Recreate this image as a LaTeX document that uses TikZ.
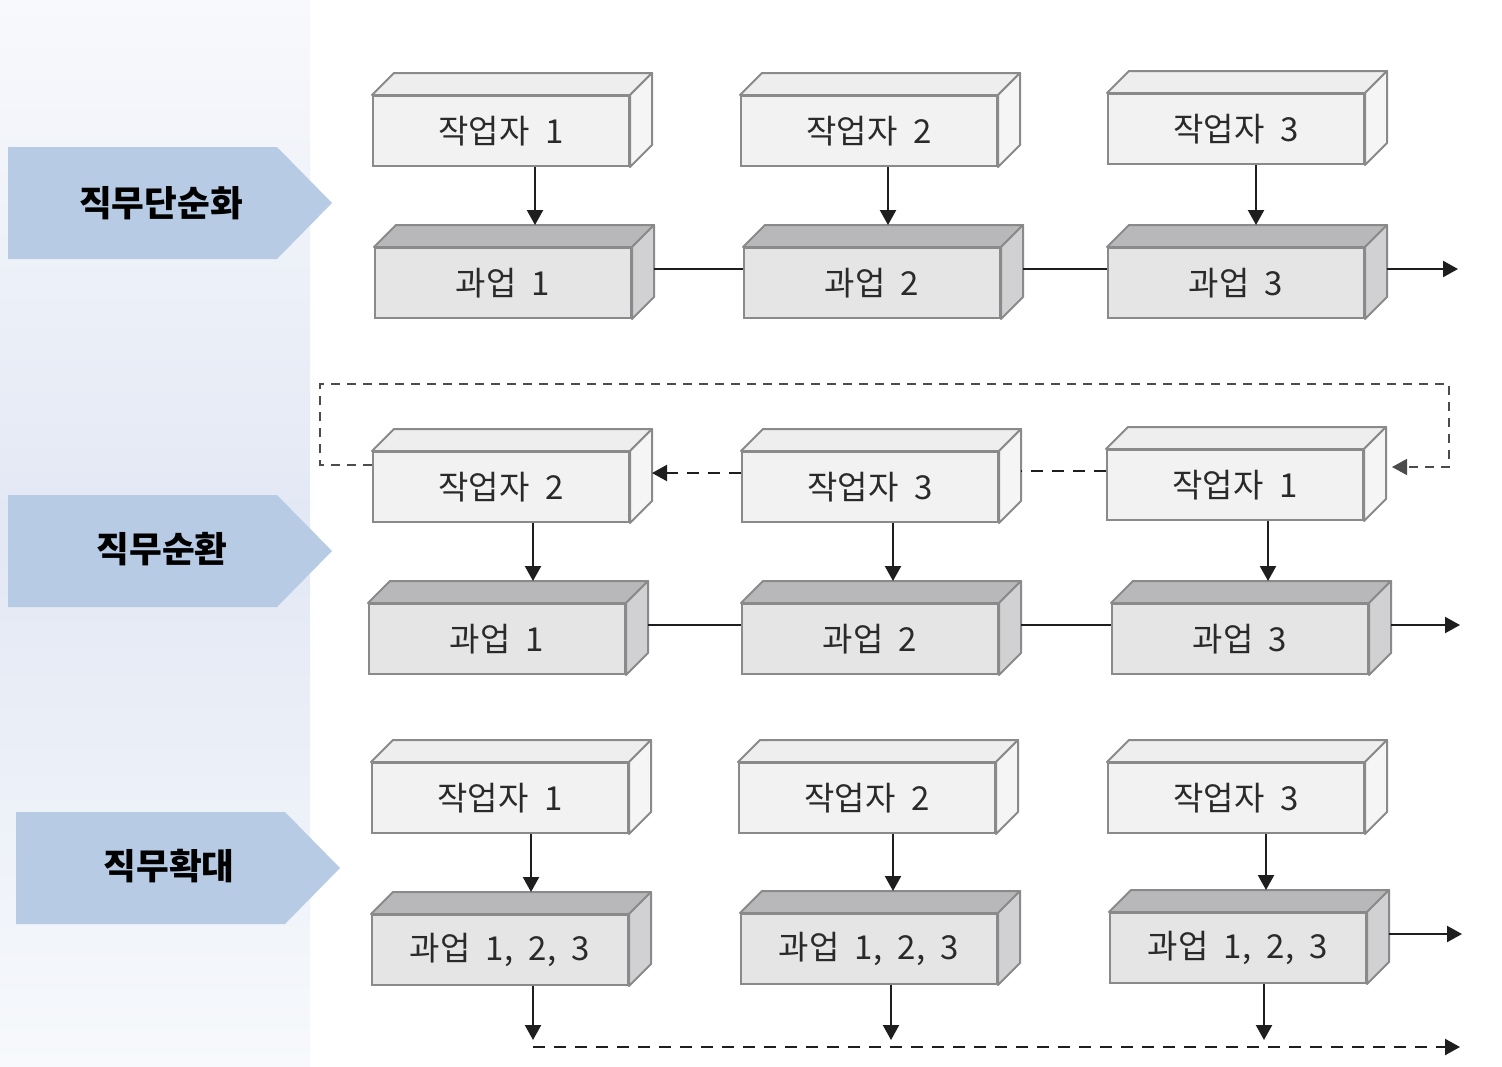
\documentclass[tikz,border=0pt]{standalone}
\usepackage{fontspec}
\newfontfamily\kr[WordSpace=2.1]{Noto Sans CJK KR}
\usetikzlibrary{arrows.meta,calc}
\definecolor{panTop}{HTML}{F8F9FC}
\definecolor{panMid}{HTML}{E2E8F4}
\definecolor{panBot}{HTML}{F7F9FC}
\definecolor{tagc}{HTML}{B7CCE4}
\definecolor{bord}{HTML}{8A8A8A}
\definecolor{wf}{HTML}{F2F2F2}
\definecolor{wt}{HTML}{EEEEEE}
\definecolor{ws}{HTML}{F5F5F5}
\definecolor{tf}{HTML}{E5E5E5}
\definecolor{tt}{HTML}{B8B8BB}
\definecolor{ts}{HTML}{D1D1D3}
\definecolor{linec}{HTML}{1E1E1E}
\definecolor{txt}{HTML}{2A2A2A}
\tikzset{
  front/.style={draw=bord, line width=1pt, minimum width=128pt, minimum height=35pt,
    inner sep=0pt, anchor=north west, text=txt, font=\kr\fontsize{16.5}{16.5}\selectfont},
  face/.style={draw=bord, line width=1pt, line join=round},
  tagtext/.style={font=\kr\bfseries\fontsize{17.8}{17.8}\selectfont, text=black, inner sep=0pt},
  ln/.style={line width=1.1pt, draw=linec},
  tip/.style={-{Triangle[length=7.5pt,width=8pt]}},
  arr/.style={ln, tip},
  dsh/.style={dash pattern=on 6pt off 4.5pt},
  loopd/.style={line width=0.8pt, draw=black!70, dash pattern=on 4.5pt off 3.5pt},
}
\newcommand\cubeb[7]{%
  \node[front, fill=#4] (#1) at (#2,#3) {#7};
  \draw[face, fill=#5] (#1.north west) -- ($(#1.north west)+(22,-22)$) -- ($(#1.north east)+(22,-22)$) -- (#1.north east) -- cycle;
  \draw[face, fill=#6] (#1.north east) -- ($(#1.north east)+(22,-22)$) -- ($(#1.south east)+(22,-22)$) -- (#1.south east) -- cycle;
  \coordinate (#1-top) at ([yshift=11pt]#1.north);
  \coordinate (#1-r) at ([xshift=11pt,yshift=7pt]#1.east);
}
\newcommand\wcube[4]{\cubeb{#1}{#2}{#3}{wf}{wt}{ws}{#4}}
\newcommand\tcube[4]{\cubeb{#1}{#2}{#3}{tf}{tt}{ts}{#4}}
\begin{document}
\begin{tikzpicture}[x=0.5pt,y=-0.5pt]
\useasboundingbox (0,0) rectangle (1502,1066);
\fill[white] (0,0) rectangle (1502,1066);
\shade[top color=panTop, bottom color=panBot, middle color=panMid] (0,0) rectangle (310,1066);

% tags
\fill[tagc] (8,147) -- (277,147) -- (332,203) -- (277,259) -- (8,259) -- cycle;
\node[tagtext] (tag1) at (161,203) {직무단순화};
\fill[tagc] (8,495) -- (277,495) -- (332,551) -- (277,607) -- (8,607) -- cycle;
\node[tagtext] (tag2) at (162,549) {직무순환};
\fill[tagc] (16,812) -- (285,812) -- (340,868) -- (285,924) -- (16,924) -- cycle;
\node[tagtext] (tag3) at (169,866) {직무확대};

% row 1
\wcube{w11}{372}{95}{작업자 1}
\wcube{w12}{740}{95}{작업자 2}
\wcube{w13}{1107}{93}{작업자 3}
\tcube{t11}{374}{247}{과업 1}
\tcube{t12}{743}{247}{과업 2}
\tcube{t13}{1107}{247}{과업 3}
\coordinate (end1) at (1458,265);
\draw[arr] ([xshift=17pt]w11.south) -- ([xshift=17pt]w11.south |- t11-top);
\draw[arr] ([xshift=9.5pt]w12.south) -- ([xshift=9.5pt]w12.south |- t12-top);
\draw[arr] ([xshift=10pt]w13.south) -- ([xshift=10pt]w13.south |- t13-top);
\draw[ln] (t11-r) -- (t11-r -| t12.west);
\draw[ln] (t12-r) -- (t12-r -| t13.west);
\draw[arr] (t13-r) -- (t13-r -| end1);

% row 2
\wcube{w22}{372}{451}{작업자 2}
\wcube{w23}{741}{451}{작업자 3}
\wcube{w21}{1106}{449}{작업자 1}
\tcube{t21}{368}{603}{과업 1}
\tcube{t22}{741}{603}{과업 2}
\tcube{t23}{1111}{603}{과업 3}
\coordinate (end2) at (1460,626);
\draw[arr] ([xshift=16pt]w22.south) -- ([xshift=16pt]w22.south |- t21-top);
\draw[arr] ([xshift=11.5pt]w23.south) -- ([xshift=11.5pt]w23.south |- t22-top);
\draw[arr] ([xshift=16.5pt]w21.south) -- ([xshift=16.5pt]w21.south |- t23-top);
\draw[ln] (t21-r) -- (t21-r -| t22.west);
\draw[ln] (t22-r) -- (t22-r -| t23.west);
\draw[arr] (t23-r) -- (t23-r -| end2);
\draw[arr, dsh] ([yshift=7pt]w23.west) -- ([yshift=7pt]w23.west -| w22-r);
\draw[ln, dsh] ([yshift=7pt]w21.west) -- ([yshift=7pt]w21.west -| w23-r);
\coordinate (lp1) at (320,384);
\coordinate (lp2) at (1449,384);
\draw[loopd, tip] ([yshift=11pt]w22.west) -| (lp1) -- (lp2) |- ([xshift=14pt,yshift=9pt]w21.east);

% row 3
\wcube{w31}{371}{762}{작업자 1}
\wcube{w32}{738}{762}{작업자 2}
\wcube{w33}{1107}{762}{작업자 3}
\tcube{t31}{371}{914}{과업 1, 2, 3}
\tcube{t32}{740}{913}{과업 1, 2, 3}
\tcube{t33}{1109}{912}{과업 1, 2, 3}
\draw[arr] ([xshift=15.5pt]w31.south) -- ([xshift=15.5pt]w31.south |- t31-top);
\draw[arr] ([xshift=13pt]w32.south) -- ([xshift=13pt]w32.south |- t32-top);
\draw[arr] ([xshift=15pt]w33.south) -- ([xshift=15pt]w33.south |- t33-top);
\coordinate (end3) at (1462,935);
\draw[arr] (t33-r) -- (t33-r -| end3);
\coordinate (dl) at (0,1040);
\coordinate (d1) at (1460,1047);
\draw[arr] ([xshift=16.5pt]t31.south) -- ([xshift=16.5pt]t31.south |- dl);
\draw[arr] ([xshift=11pt]t32.south) -- ([xshift=11pt]t32.south |- dl);
\draw[arr] ([xshift=13pt]t33.south) -- ([xshift=13pt]t33.south |- dl);
\draw[arr, dsh] ([xshift=16.5pt]t31.south |- d1) -- (d1);
\end{tikzpicture}
\end{document}
